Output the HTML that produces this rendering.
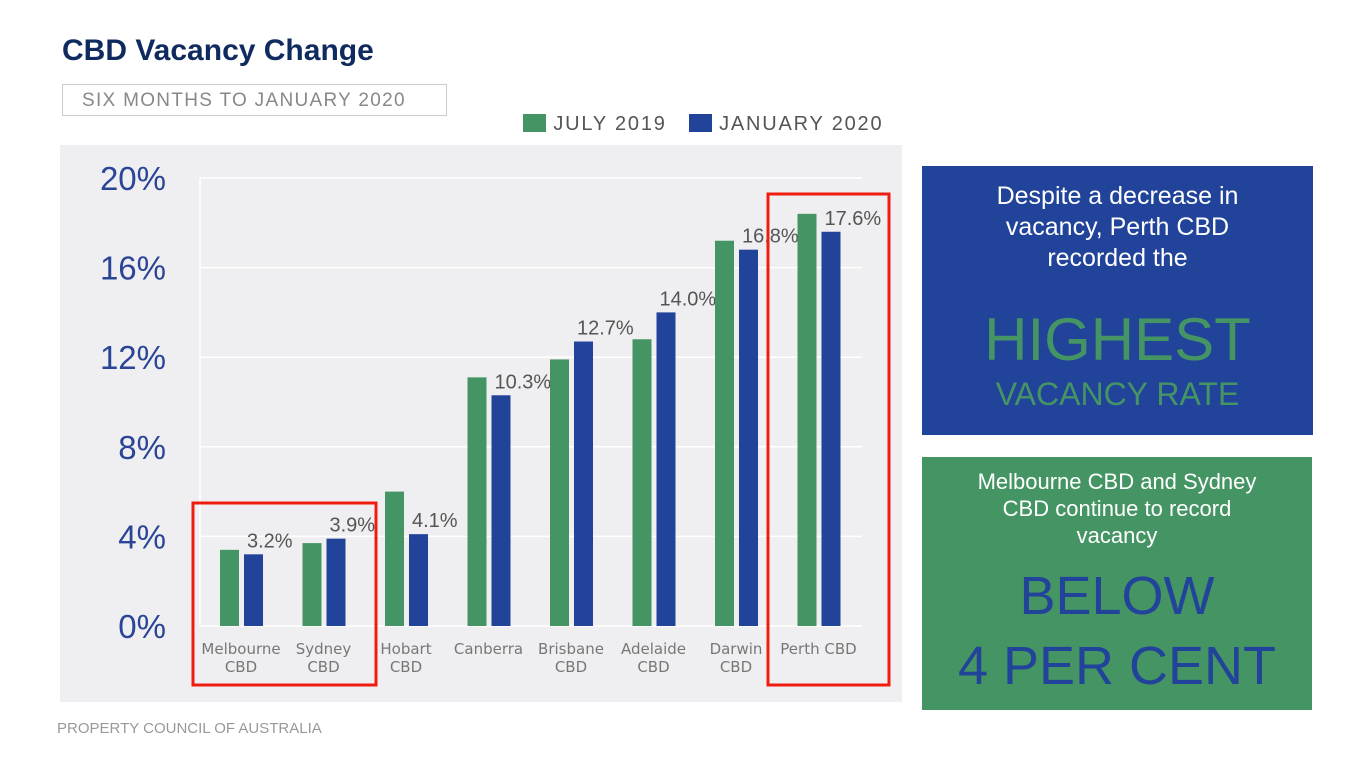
<!DOCTYPE html>
<html><head><meta charset="utf-8"><style>
body{margin:0;width:1366px;height:768px;background:#fff;font-family:"Liberation Sans",sans-serif;position:relative;overflow:hidden}
.abs{position:absolute}
</style></head><body>
<div class="abs" style="left:62px;top:34px;font-size:30px;font-weight:bold;color:#0e2a5e;">CBD Vacancy Change</div>
<div class="abs" style="left:62px;top:84px;width:385px;height:32px;border:1px solid #ccc;box-sizing:border-box;color:#888;font-size:19px;letter-spacing:1.3px;line-height:31px;padding-left:19px;">SIX MONTHS TO JANUARY 2020</div>
<div class="abs" style="left:523px;top:113px;font-size:20px;color:#555;letter-spacing:1.8px;">
<span style="display:inline-block;width:23px;height:18px;background:#459464;vertical-align:-2px"></span> JULY 2019&nbsp;&nbsp;
<span style="display:inline-block;width:23px;height:18px;background:#22439a;vertical-align:-2px"></span> JANUARY 2020</div>
<svg class="abs" style="left:0;top:0" width="1366" height="768" id="chart">
<rect x="60" y="145" width="842" height="557" fill="#efeff1"/>
</svg>
<div class="abs" style="left:922px;top:166px;width:391px;height:269px;background:#22439a;text-align:center;">
<div style="color:#fff;font-size:25px;line-height:31px;margin-top:15px;">Despite a decrease in<br>vacancy, Perth CBD<br>recorded the</div>
<div style="color:#459464;font-size:60px;margin-top:36px;line-height:60px;">HIGHEST</div>
<div style="color:#459464;font-size:32px;margin-top:6px;">VACANCY RATE</div></div>
<div class="abs" style="left:922px;top:457px;width:390px;height:253px;background:#459464;text-align:center;">
<div style="color:#fff;font-size:22px;line-height:27px;margin-top:11px;">Melbourne CBD and Sydney<br>CBD continue to record<br>vacancy</div>
<div style="color:#22439a;font-size:54px;line-height:70px;margin-top:12px;">BELOW<br>4 PER CENT</div></div>
<div class="abs" style="left:57px;top:720px;font-size:15px;color:#999;">PROPERTY COUNCIL OF AUSTRALIA</div>
<script>
const categories=[["Melbourne","CBD"],["Sydney","CBD"],["Hobart","CBD"],["Canberra"],["Brisbane","CBD"],["Adelaide","CBD"],["Darwin","CBD"],["Perth CBD"]];
const july2019=[3.4,3.7,6.0,11.1,11.9,12.8,17.2,18.4];
const jan2020=[3.2,3.9,4.1,10.3,12.7,14.0,16.8,17.6];
const janLabels=["3.2%","3.9%","4.1%","10.3%","12.7%","14.0%","16.8%","17.6%"];
const yTicks=[0,4,8,12,16,20];
const yTickLabels=["0%","4%","8%","12%","16%","20%"];
const NS="http://www.w3.org/2000/svg",svg=document.getElementById('chart');
const y=v=>626-v*22.4, cx=i=>241+i*82.5;
function mk(t,a){const e=document.createElementNS(NS,t);for(const k in a)e.setAttribute(k,a[k]);svg.appendChild(e);return e;}
yTicks.forEach((t,i)=>{
 const g=mk('line',{x1:200,x2:862,y1:y(t),y2:y(t),stroke:'#fff','stroke-width':1.5});
 
 
 const l=mk('text',{x:166,y:y(t)+12,'text-anchor':'end','font-size':33,fill:'#2a4596','font-family':'Liberation Sans'});
 l.textContent=yTickLabels[i];
 
 
});
const ax=mk('line',{x1:200,x2:200,y1:178,y2:626,stroke:'#fff','stroke-width':1.5});


categories.forEach((c,i)=>{
 const b1=mk('rect',{x:cx(i)-21,y:y(july2019[i]),width:19,height:july2019[i]*22.4,fill:'#459464'});
 
 
 const b2=mk('rect',{x:cx(i)+3,y:y(jan2020[i]),width:19,height:jan2020[i]*22.4,fill:'#22439a'});
 
 
 const v=mk('text',{x:cx(i)+6,y:y(jan2020[i])-7,'font-size':20,fill:'#555','font-family':'Liberation Sans'});
 v.textContent=janLabels[i];
 
 
 c.forEach((s,j)=>{
  const t=mk('text',{x:cx(i),y:654+j*18,'text-anchor':'middle','font-size':15,fill:'#777','font-family':'DejaVu Sans'});
  t.textContent=s;
  
  
 });
});
const r1=mk('rect',{x:193,y:503,width:183,height:182,fill:'none',stroke:'#f01c10','stroke-width':3});


const r2=mk('rect',{x:768,y:194,width:121,height:491,fill:'none',stroke:'#f01c10','stroke-width':3});


</script>
</body></html>
